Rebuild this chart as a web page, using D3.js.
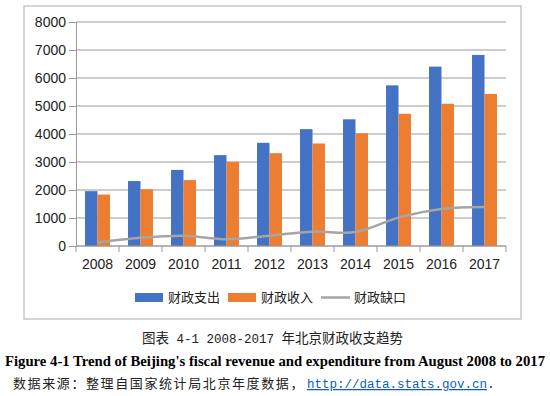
<!DOCTYPE html>
<html lang="zh">
<head>
<meta charset="UTF-8">
<title>2008-2017年北京财政收支趋势</title>
<style>
  body { margin: 0; background: #fff; }
  .axis text { font-family: "Liberation Sans", Arial, sans-serif; font-size: 14px; fill: #222; }
  .legend text { font-family: "Noto Sans CJK SC", sans-serif; font-size: 13px; fill: #222; }
</style>
</head>
<body>
<svg id="chart" width="550" height="396"></svg>
<script src="https://d3js.org/d3.v7.min.js"></script>
<script>
// data (亿元)
const years = ["2008", "2009", "2010", "2011", "2012", "2013", "2014", "2015", "2016", "2017"];
const expenditure = [1959, 2319, 2717, 3245, 3685, 4174, 4525, 5738, 6406, 6824];
const revenue = [1837, 2027, 2354, 3006, 3315, 3661, 4027, 4724, 5081, 5431];
const gap = [122, 292, 363, 239, 370, 513, 498, 1014, 1325, 1393];
const yTicks = [0, 1000, 2000, 3000, 4000, 5000, 6000, 7000, 8000];
const seriesNames = ["财政支出", "财政收入", "财政缺口"];
const colors = ["#4472c4", "#ed7d31", "#a5a5a5"];

const svg = d3.select("#chart");

// outer frame of the chart
svg.append("rect")
    .attr("x", 24).attr("y", 6)
    .attr("width", 497).attr("height", 313)
    .attr("fill", "#fff")
    .attr("stroke", "#c8c8c8")
    .attr("stroke-width", 1.5);

const x0 = d3.scaleBand()
    .domain(years)
    .range([76, 506])
    .paddingInner(0.42)
    .paddingOuter(0.21);

const x1 = d3.scaleBand()
    .domain([0, 1])
    .range([0, x0.bandwidth()]);

const y = d3.scaleLinear()
    .domain([0, 8000])
    .range([246, 22]);

// gridlines
svg.append("g")
    .selectAll("line")
    .data(yTicks)
    .join("line")
    .attr("x1", 76).attr("x2", 506)
    .attr("y1", d => y(d)).attr("y2", d => y(d))
    .attr("stroke", "#9a9a9a")
    .attr("stroke-width", 1);

// y axis
const yAxis = svg.append("g")
    .attr("class", "axis")
    .attr("transform", "translate(76,0)")
    .call(d3.axisLeft(y).tickValues(yTicks).tickSize(7).tickPadding(3).tickFormat(d3.format("d")));
yAxis.selectAll("line, path").attr("stroke", "#9a9a9a");

// bars
const groups = svg.append("g")
    .selectAll("g")
    .data(years)
    .join("g")
    .attr("transform", d => `translate(${x0(d)},0)`);

groups.selectAll("rect")
    .data((d, i) => [expenditure[i], revenue[i]])
    .join("rect")
    .attr("x", (d, j) => x1(j))
    .attr("width", x1.bandwidth())
    .attr("y", d => y(d))
    .attr("height", d => y(0) - y(d))
    .attr("fill", (d, j) => colors[j]);

// x axis with ticks between categories
const xAxis = svg.append("g")
    .attr("class", "axis")
    .attr("transform", "translate(0,246)");
xAxis.append("line")
    .attr("x1", 76).attr("x2", 506)
    .attr("stroke", "#9a9a9a");
xAxis.selectAll(".tick-mark")
    .data(years.concat(["end"]))
    .join("line")
    .attr("class", "tick-mark")
    .attr("x1", (d, i) => 76 + i * x0.step())
    .attr("x2", (d, i) => 76 + i * x0.step())
    .attr("y1", 0).attr("y2", 6)
    .attr("stroke", "#9a9a9a");
xAxis.selectAll("text")
    .data(years)
    .join("text")
    .attr("x", d => x0(d) + x0.bandwidth() / 2)
    .attr("y", 23)
    .attr("text-anchor", "middle")
    .text(d => d);

// gap line
const line = d3.line()
    .x((d, i) => x0(years[i]) + x0.bandwidth() / 2)
    .y(d => y(d))
    .curve(d3.curveCatmullRom.alpha(0.5));

svg.append("path")
    .datum(gap)
    .attr("d", line)
    .attr("fill", "none")
    .attr("stroke", colors[2])
    .attr("stroke-width", 2.5);

// legend
const legend = svg.append("g").attr("class", "legend");
const legendX = [135, 228, 321];
legendX.forEach((lx, i) => {
    if (i < 2) {
        legend.append("rect")
            .attr("x", lx).attr("y", 293)
            .attr("width", 28).attr("height", 9)
            .attr("fill", colors[i]);
    } else {
        legend.append("line")
            .attr("x1", lx).attr("x2", lx + 29)
            .attr("y1", 297.5).attr("y2", 297.5)
            .attr("stroke", colors[i])
            .attr("stroke-width", 2.5);
    }
    legend.append("text")
        .attr("x", lx + 33)
        .attr("y", 302)
        .text(seriesNames[i]);
});

// captions under the chart
const cap = svg.append("text")
    .attr("x", 142).attr("y", 343)
    .attr("font-family", "'Liberation Mono', 'Noto Sans CJK SC', monospace")
    .attr("font-size", 12.5)
    .attr("fill", "#222");
cap.append("tspan").attr("font-size", 13.5).attr("font-family", "'Noto Sans CJK SC', sans-serif").text("图表");
cap.append("tspan").text(" 4-1 2008-2017 ");
cap.append("tspan").attr("font-size", 13.5).attr("font-family", "'Noto Sans CJK SC', sans-serif").text("年北京财政收支趋势");

svg.append("text")
    .attr("x", 5).attr("y", 366)
    .attr("font-family", "'Liberation Serif', 'Times New Roman', serif")
    .attr("font-weight", "bold")
    .attr("font-size", 14.5)
    .attr("textLength", 540)
    .attr("lengthAdjust", "spacingAndGlyphs")
    .attr("fill", "#000")
    .text("Figure 4-1 Trend of Beijing's fiscal revenue and expenditure from August 2008 to 2017");

const src = svg.append("text")
    .attr("x", 13).attr("y", 388)
    .attr("font-size", 13)
    .attr("fill", "#222");
src.append("tspan")
    .attr("font-family", "'Noto Sans CJK SC', sans-serif")
    .attr("letter-spacing", 1.6)
    .text("数据来源：整理自国家统计局北京年度数据，");
src.append("tspan")
    .attr("x", 307)
    .attr("font-family", "'Liberation Mono', monospace")
    .attr("font-size", 12.5)
    .attr("fill", "#0b5dc4")
    .attr("text-decoration", "underline")
    .text("http://data.stats.gov.cn");
src.append("tspan")
    .attr("font-family", "'Liberation Mono', monospace")
    .text(".");
</script>
</body>
</html>
